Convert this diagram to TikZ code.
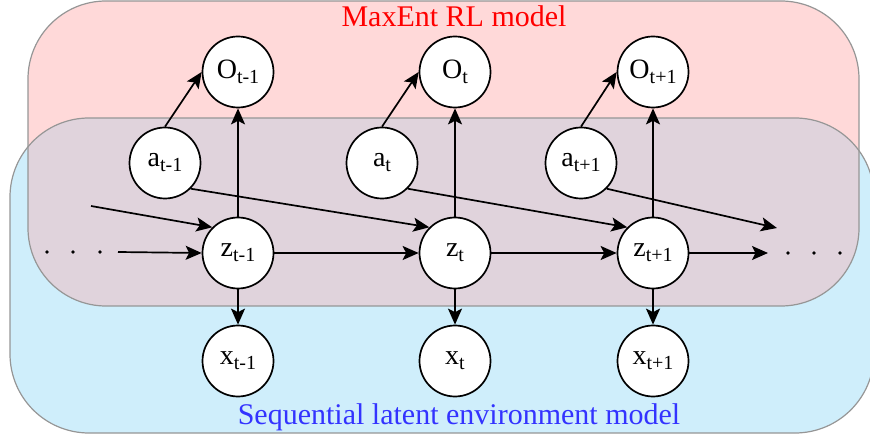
\documentclass[tikz,border=0pt]{standalone}
\usepackage{fontspec}
\setmainfont{Liberation Serif}
\usetikzlibrary{arrows.meta}
\definecolor{pinkfill}{RGB}{255,217,217}
\definecolor{bluefill}{RGB}{207,238,251}
\definecolor{overlapfill}{RGB}{224,211,220}
\definecolor{boxline}{RGB}{150,150,150}
\definecolor{titleblue}{RGB}{51,51,255}
\newcommand{\lab}[2]{#1\raisebox{-5pt}{\fontsize{20}{20}\selectfont #2}}
\tikzset{
  var/.style={circle, draw, fill=white, line width=1.7pt, minimum size=71pt, inner sep=0pt, font=\fontsize{28}{28}\selectfont},
  arr/.style={-{Stealth[length=16pt,width=14pt,inset=3.5pt]}, line width=1.7pt},
  boxborder/.style={draw=boxline, line width=1.2pt},
  title/.style={font=\fontsize{30}{30}\selectfont, anchor=base, inner sep=0pt}
}
\begin{document}
\begin{tikzpicture}[x=1pt,y=-1pt]
\useasboundingbox (0,0) rectangle (870,438);
% boxes
\fill[bluefill, rounded corners=79pt] (10,118) rectangle (874,433);
\fill[pinkfill, rounded corners=78pt] (28,1) rectangle (859,306);
\begin{scope}
  \clip[rounded corners=79pt] (10,118) rectangle (874,433);
  \fill[overlapfill, rounded corners=78pt] (28,1) rectangle (859,306);
\end{scope}
\draw[boxborder, rounded corners=79pt] (10,118) rectangle (874,433);
\draw[boxborder, rounded corners=78pt] (28,1) rectangle (859,306);
% titles
\node[title, text=red] (t1) at (454,27) {MaxEnt RL model};
\node[title, text=titleblue] (t2) at (459,424) {Sequential latent environment model};
% nodes
\node[var] (O1) at (238,72) {\lab{O}{t-1}};
\node[var] (O2) at (455,72) {\lab{O}{t}};
\node[var] (O3) at (653,72) {\lab{O}{t+1}};
\node[var] (a1) at (165,163) {\lab{a}{t-1}};
\node[var] (a2) at (382,163) {\lab{a}{t}};
\node[var] (a3) at (581,163) {\lab{a}{t+1}};
\node[var] (z1) at (238,253) {\lab{z}{t-1}};
\node[var] (z2) at (455,253) {\lab{z}{t}};
\node[var] (z3) at (653,253) {\lab{z}{t+1}};
\node[var] (x1) at (238,361) {\lab{x}{t-1}};
\node[var] (x2) at (455,361) {\lab{x}{t}};
\node[var] (x3) at (653,361) {\lab{x}{t+1}};
% free ends
\coordinate (inA) at (91,206);
\coordinate (inZ) at (118,252);
\coordinate (outA) at (777,228);
\coordinate (outZ) at (768,253);
% dots
\foreach \xx in {47,73,100} \fill (\xx,252) circle (1.9pt);
\foreach \xx in {788,814,840} \fill (\xx,253) circle (1.9pt);
% edges
\draw[arr] (a1.north) -- (O1.west);
\draw[arr] (a2.north) -- (O2.west);
\draw[arr] (a3.north) -- (O3.west);
\draw[arr] (z1) -- (O1);
\draw[arr] (z2) -- (O2);
\draw[arr] (z3) -- (O3);
\draw[arr] (z1) -- (x1);
\draw[arr] (z2) -- (x2);
\draw[arr] (z3) -- (x3);
\draw[arr] (inZ) -- (z1.west);
\draw[arr] (z1) -- (z2);
\draw[arr] (z2) -- (z3);
\draw[arr] (z3.east) -- (outZ);
\draw[arr] (inA) -- (z1.north west);
\draw[arr] (a1.south east) -- (z2.north west);
\draw[arr] (a2.south east) -- (z3.north west);
\draw[arr] (a3.south east) -- (outA);
\end{tikzpicture}
\end{document}
